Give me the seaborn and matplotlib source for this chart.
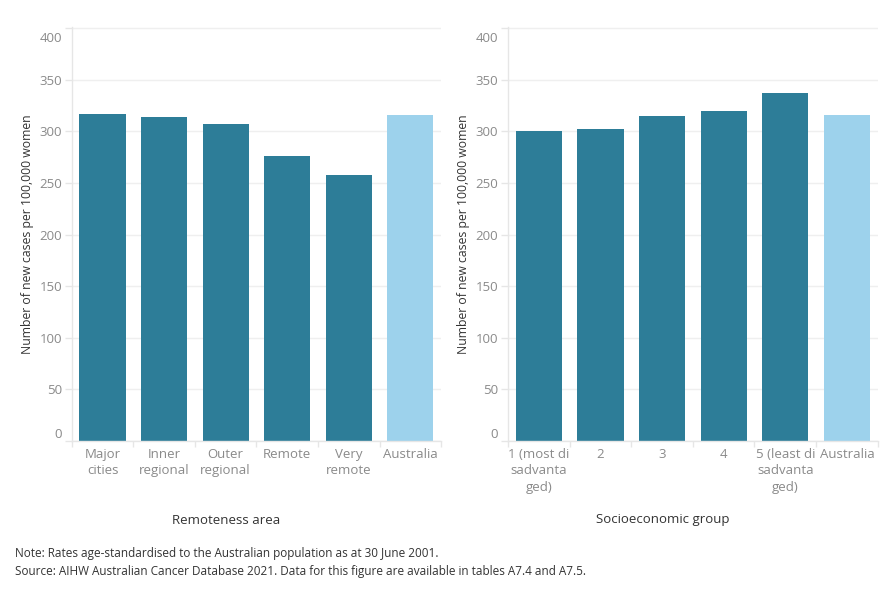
import matplotlib
matplotlib.use("Agg")
import matplotlib.pyplot as plt
import matplotlib.transforms as mtrans
import seaborn as sns
import numpy as np

remote_cats = ["Major\ncities", "Inner\nregional", "Outer\nregional", "Remote", "Very\nremote", "Australia"]
remote_vals = [317, 314, 307, 276, 258, 316]

ses_cats = ["1 (most di\nsadvanta\nged)", "2", "3", "4", "5 (least di\nsadvanta\nged)", "Australia"]
ses_vals = [300, 302, 315, 320, 337, 316]

yticks = [0, 50, 100, 150, 200, 250, 300, 350, 400]

dark = "#2d7d98"
light = "#9dd2ec"

sns.set_theme(style="white")
plt.rcParams['font.family'] = ['Open Sans', 'DejaVu Sans']

fig = plt.figure(figsize=(8.9, 6.0), dpi=100)
ax1 = fig.add_axes([0.0806, 0.265, 0.415, 0.69])
ax2 = fig.add_axes([0.5708, 0.265, 0.4154, 0.69])

def draw(ax, cats, vals, xlabel, label_center):
    palette = [dark] * (len(cats) - 1) + [light]
    sns.barplot(x=cats, y=vals, hue=cats, palette=palette, legend=False,
                width=0.75, saturation=1, linewidth=0, ax=ax)
    ax.set_ylim(0, 401)
    ax.set_xlim(-0.5, len(cats) - 0.5)
    ax.set_yticks(yticks)
    ax.set_yticklabels([str(t) for t in yticks])
    ax.yaxis.grid(True, color="#efefef", linewidth=1)
    ax.set_axisbelow(True)
    for s in ["top", "right"]:
        ax.spines[s].set_visible(False)
    for s in ["left", "bottom"]:
        ax.spines[s].set_color("#e6e6e6")
        ax.spines[s].set_linewidth(1)
    ax.tick_params(axis="y", colors="#e6e6e6", labelcolor="#8a8a8a", labelsize=9.5,
                   length=5, width=1, pad=2, left=True)
    ax.tick_params(axis="x", which="major", length=0, labelcolor="#8a8a8a", labelsize=9.5, pad=5)
    ax.set_xticks(np.arange(-0.5, len(cats), 1.0), minor=True)
    ax.tick_params(axis="x", which="minor", bottom=True, length=4, width=1, color="#e6e6e6")
    for lab in ax.get_xticklabels():
        lab.set_linespacing(1.35)
    # keep end labels inside the plot area
    ylabs = ax.get_yticklabels()
    ylabs[0].set_transform(ylabs[0].get_transform() + mtrans.ScaledTranslation(0, 8 / 100, fig.dpi_scale_trans))
    ylabs[-1].set_transform(ylabs[-1].get_transform() + mtrans.ScaledTranslation(0, -9 / 100, fig.dpi_scale_trans))
    ax.set_ylabel("Number of new cases per 100,000 women", fontsize=8.8, color="#333333")
    ax.yaxis.label.set_va("center")
    ax.yaxis.set_label_coords(-44.2 / 369.4, 0.5)
    ax.set_xlabel("")
    fig.text(label_center, 1 - 520 / 600, xlabel, ha="center", va="center",
             fontsize=9.5, color="#333333")

draw(ax1, remote_cats, remote_vals, "Remoteness area", 226 / 890)
draw(ax2, ses_cats, ses_vals, "Socioeconomic group", 663 / 890)

fig.text(15 / 890, 1 - 553 / 600, "Note: Rates age-standardised to the Australian population as at 30 June 2001.",
         ha="left", va="center", fontsize=8.5, color="#333333")
fig.text(15 / 890, 1 - 572 / 600, "Source: AIHW Australian Cancer Database 2021. Data for this figure are available in tables A7.4 and A7.5.",
         ha="left", va="center", fontsize=8.5, color="#333333")

fig.savefig("out.png", dpi=100)
